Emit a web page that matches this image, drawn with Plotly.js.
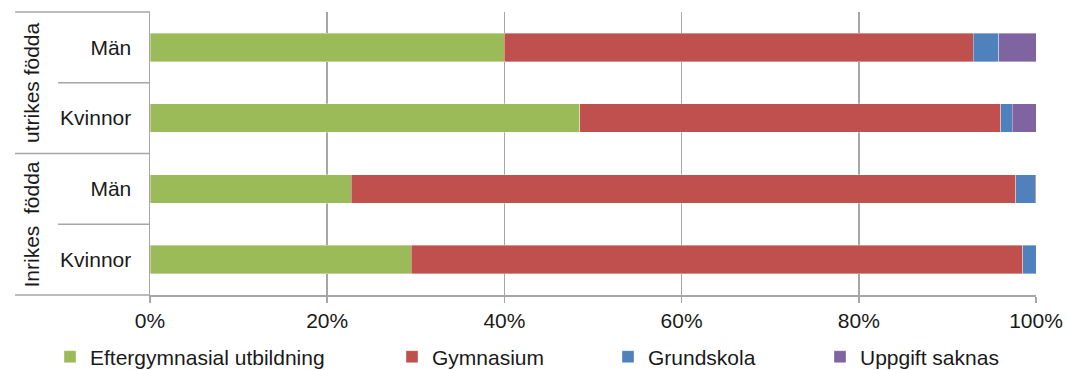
<!DOCTYPE html>
<html>
<head>
<meta charset="utf-8">
<script src="https://cdn.plot.ly/plotly-3.0.1.min.js"></script>
<style>
  html, body { margin: 0; padding: 0; background: #ffffff; }
  #chart { width: 1066px; height: 370px; }
</style>
</head>
<body>
<div id="chart"></div>
<script>
// Utbildningsnivå per födelseland och kön (andel, %)
// Rows are listed bottom to top.
const rowKeys    = ['Inrikes födda – Kvinnor', 'Inrikes födda – Män', 'Utrikes födda – Kvinnor', 'Utrikes födda – Män'];
const rowLabels  = ['Kvinnor', 'Män', 'Kvinnor', 'Män'];
const groupNames = ['Inrikes\u00a0\u00a0födda', 'utrikes födda'];

const seriesNames = ['Eftergymnasial utbildning', 'Gymnasium', 'Grundskola', 'Uppgift saknas'];
const eftergymnasial = [29.5, 22.7, 48.5, 40.0];
const gymnasium      = [69.0, 75.0, 47.5, 52.9];
const grundskola     = [1.5, 2.2, 1.3, 2.9];
const uppgiftSaknas  = [0.0, 0.1, 2.7, 4.2];

const xTickVals   = [0, 20, 40, 60, 80, 100];
const xTickLabels = ['0%', '20%', '40%', '60%', '80%', '100%'];

const colors = ['#9bbb59', '#c0504d', '#4f81bd', '#8064a2'];
const seriesValues = [eftergymnasial, gymnasium, grundskola, uppgiftSaknas];

const FONT = 'Liberation Sans, Arial, sans-serif';
const FS = 21;
const GRID = '#a6a6a6';
const TEXT = '#1a1a1a';

// one legend per series so each entry can sit at its own place in the row
const legendIds = ['legend', 'legend2', 'legend3', 'legend4'];
const legendLeft = [50, 392, 608, 820];

const traces = seriesValues.map((vals, i) => ({
  type: 'bar',
  orientation: 'h',
  name: seriesNames[i],
  legend: legendIds[i],
  y: rowKeys,
  x: vals,
  marker: { color: colors[i], line: { color: 'rgba(255,255,255,0.45)', width: 0.8 } },
  hoverinfo: 'name+x'
}));

// Divider lines of the two-level category axis, left of the plot area
const outerX = -0.1523, innerX = -0.1038;
const line = (x0, y) => ({
  type: 'line', xref: 'paper', yref: 'paper',
  x0: x0, x1: 0, y0: y, y1: y,
  line: { color: GRID, width: 1.5 }
});
const shapes = [line(outerX, 1), line(innerX, 0.75), line(outerX, 0.5), line(innerX, 0.25), line(outerX, 0)];

const groupY = [0.25, 0.75];
const annotations = groupNames.map((g, i) => ({
  text: g, xref: 'paper', yref: 'paper',
  x: -0.134, y: groupY[i], textangle: -90,
  showarrow: false, xanchor: 'center', yanchor: 'middle',
  font: { family: FONT, size: FS, color: TEXT }
}));

const layout = {
  width: 1066, height: 370,
  margin: { l: 150, r: 29.5, t: 12, b: 75 },
  paper_bgcolor: '#ffffff', plot_bgcolor: '#ffffff',
  barmode: 'stack',
  bargap: 0.6,
  font: { family: FONT, size: FS, color: TEXT },
  xaxis: {
    range: [0, 100], tickvals: xTickVals, ticktext: xTickLabels,
    showgrid: true, gridcolor: GRID, gridwidth: 1.5,
    showline: true, linecolor: GRID, linewidth: 1.5,
    ticks: 'outside', ticklen: 6, tickcolor: GRID, tickwidth: 1.5,
    zeroline: false, fixedrange: true,
    tickfont: { family: FONT, size: FS, color: TEXT }
  },
  yaxis: {
    type: 'category', categoryorder: 'array', categoryarray: rowKeys,
    range: [-0.5, 3.5],
    tickvals: rowKeys, ticktext: rowLabels,
    showline: true, linecolor: GRID, linewidth: 1.5,
    ticks: '', ticklabelstandoff: 13,
    showgrid: false, zeroline: false, fixedrange: true,
    tickfont: { family: FONT, size: FS, color: TEXT }
  },
  showlegend: true,
  shapes: shapes,
  annotations: annotations
};

legendIds.forEach((id, i) => {
  layout[id] = {
    orientation: 'h',
    xref: 'container', yref: 'container',
    x: legendLeft[i] / 1066, xanchor: 'left',
    y: 13 / 370, yanchor: 'middle',
    font: { family: FONT, size: FS, color: TEXT },
    bgcolor: 'rgba(0,0,0,0)', borderwidth: 0
  };
});

Plotly.newPlot('chart', traces, layout, { displayModeBar: false, staticPlot: true });
</script>
</body>
</html>
